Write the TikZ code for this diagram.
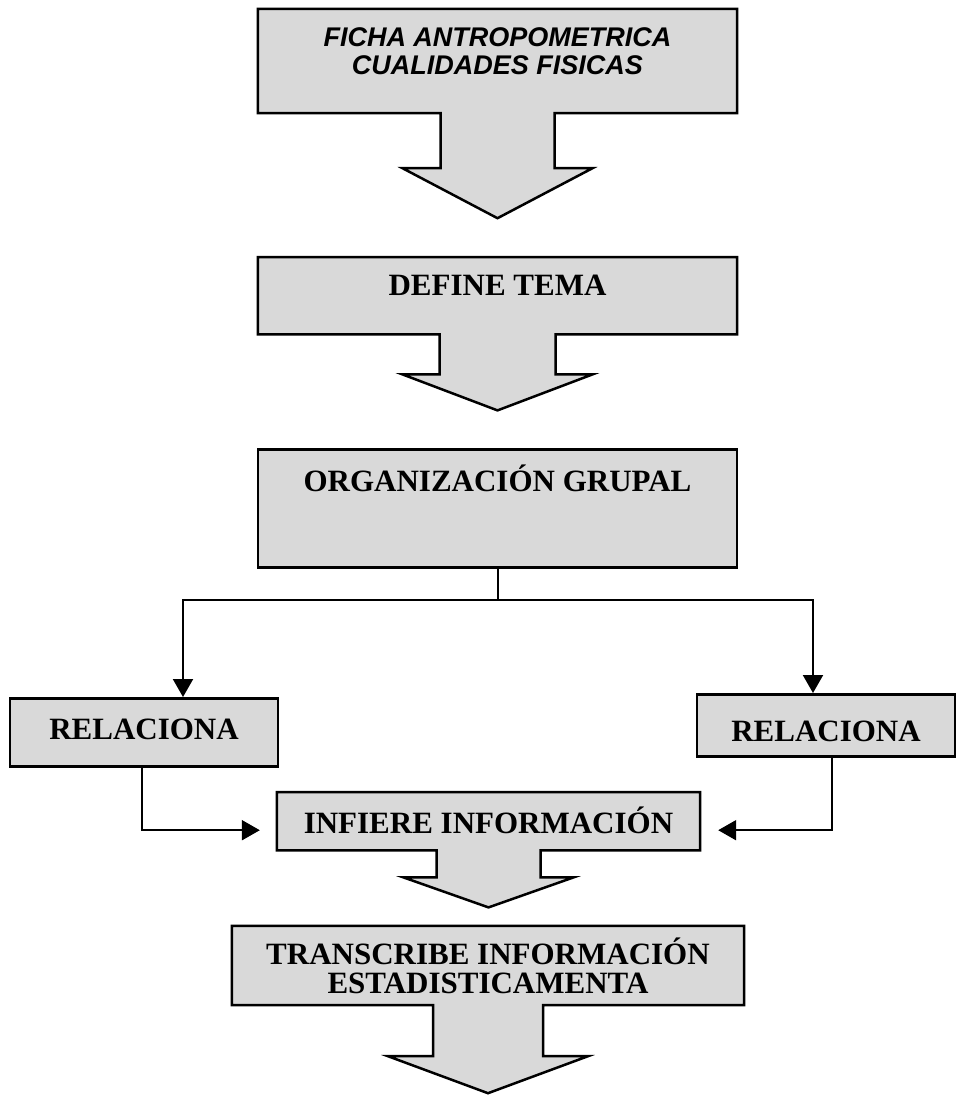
\documentclass[tikz,border=0pt]{standalone}
\usepackage{fontspec}
\setmainfont{Liberation Serif}
\newfontfamily\arial{Liberation Sans}
\usetikzlibrary{arrows.meta,backgrounds}

% box with a block arrow hanging from its bottom side
% #1 node, #2 shaft half width, #3 head half width, #4 shaft length, #5 arrow length
\newcommand{\bloque}[5]{%
  \draw[caja] (#1.north west) -- (#1.north east) -- (#1.south east)
    -- ([xshift=#2pt]#1.south) -- ([xshift=#2pt,yshift=-#4pt]#1.south)
    -- ([xshift=#3pt,yshift=-#4pt]#1.south) -- ([yshift=-#5pt]#1.south)
    -- ([xshift=-#3pt,yshift=-#4pt]#1.south) -- ([xshift=-#2pt,yshift=-#4pt]#1.south)
    -- ([xshift=-#2pt]#1.south) -- (#1.south west) -- cycle;}

\begin{document}
\begin{tikzpicture}[x=1pt, y=-1pt,
    caja/.style = {draw, line width=2.5pt, line join=miter, fill=black!15},
    etapa/.style = {inner sep=0pt, font=\bfseries\fontsize{31}{29}\selectfont},
    rel/.style = {etapa, draw, line width=2.5pt, fill=black!15},
    linea/.style = {line width=2pt},
    flecha/.style = {linea, -{Triangle[width=20pt,length=18pt]}}]
\useasboundingbox (0,0) rectangle (957,1096);

\node[etapa, minimum width=479pt, minimum height=104pt,
      label={[font=\arial\bfseries\itshape\fontsize{27}{28}\selectfont, align=center, yshift=10pt]center:FICHA ANTROPOMETRICA\\CUALIDADES FISICAS}]
      (ficha) at (497.5,61) {};
\node[etapa, anchor=north, minimum width=479pt, text height=38pt, text depth=39pt] (tema) at (497.5,257) {DEFINE TEMA};
\node[rel, anchor=north, minimum width=479pt, text height=42pt, text depth=76pt] (grupo) at (497.5,448) {ORGANIZACIÓN GRUPAL};
\node[rel, anchor=north, minimum width=268pt, text height=41pt, text depth=27pt] (relA) at (144,697) {RELACIONA};
\node[rel, anchor=north, minimum width=258pt, text height=47pt, text depth=15pt] (relB) at (826,693) {RELACIONA};
\node[etapa, anchor=north, minimum width=423pt, text height=41pt, text depth=17pt] (infiere) at (488.5,792) {INFIERE INFORMACIÓN};
\node[etapa, align=center, minimum width=512pt, minimum height=79pt] (transcribe) at (488,965.5) {TRANSCRIBE INFORMACIÓN\\ESTADISTICAMENTA};

\begin{scope}[on background layer]
  \bloque{ficha}{57}{95}{55}{105}
  \bloque{tema}{58}{95}{40}{76}
  \bloque{infiere}{52}{85}{27}{57}
  \bloque{transcribe}{55}{100}{51}{88}
\end{scope}

% branching to both sides
\coordinate (rama) at (497.5,600);
\draw[linea] (grupo.south) -- (rama);
\draw[flecha] (rama) -| ([xshift=39pt]relA.north);
\draw[flecha] (rama) -| ([xshift=-13pt]relB.north);

\draw[flecha] ([xshift=-2pt]relA.south) |- ([xshift=-17pt,yshift=-9pt]infiere.west);
\draw[flecha] ([xshift=6pt]relB.south) |- ([xshift=18pt,yshift=-9pt]infiere.east);
\end{tikzpicture}
\end{document}
